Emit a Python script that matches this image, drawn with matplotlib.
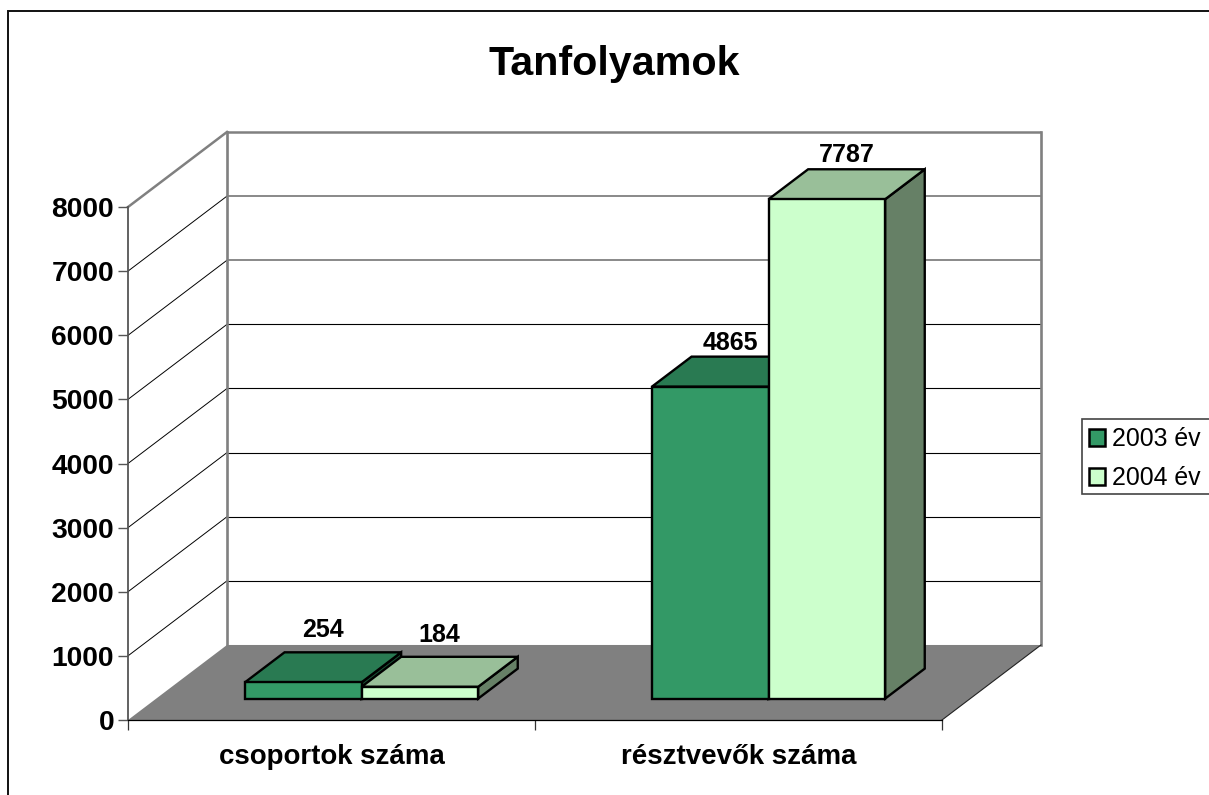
import matplotlib
matplotlib.use("Agg")
import matplotlib.pyplot as plt
from matplotlib.patches import Polygon, Patch, Rectangle

plt.rcParams['font.family'] = ['Liberation Sans', 'DejaVu Sans']

title = "Tanfolyamok"
categories = ["csoportok száma", "résztvevők száma"]
series_names = ["2003 év", "2004 év"]
values_2003 = [254, 4865]
values_2004 = [184, 7787]
y_levels = [0, 1000, 2000, 3000, 4000, 5000, 6000, 7000, 8000]

W, H = 1209, 795
fig = plt.figure(figsize=(W / 100, H / 100), dpi=100, facecolor='white')
px = 72 / 100  # points per pixel

ax = fig.add_axes([128 / W, (H - 720) / H, 814 / W, 513 / H])
ax.set_xlim(0, 2)
ax.set_ylim(0, 8000)
ax.patch.set_visible(False)

DX = 99 / 407      # depth of the chart box, category units
DY = 1170          # depth of the chart box, value units
GAP = 0.218
BAR_W = 0.2865
D0, D1 = 0.285, 0.685


def prj(x, v, d=0.0):
    return (x + d * DX, v + d * DY)


GRAY = '#808080'
line_colors = {8000: GRAY, 7000: GRAY, 6000: GRAY}

# outer chart frame
fig.add_artist(Rectangle((8 / W, -0.02), 1.1, (H - 10.5) / H + 0.02, transform=fig.transFigure,
                         fill=False, edgecolor='#111111', linewidth=1.4))

# walls
for lv in y_levels[1:]:
    top = lv == 8000
    c = line_colors.get(lv, 'black')
    ax.plot(*zip(prj(2, lv, 1), prj(0, lv, 1)), color=c, lw=1.8 if top else (1.3 if c == GRAY else 0.8),
            clip_on=False, zorder=1, solid_capstyle='butt')
    ax.plot(*zip(prj(0, lv, 0), prj(0, lv, 1)), color=GRAY if top else 'black', lw=1.8 if top else 0.7,
            clip_on=False, zorder=1)
for xs in (0, 2):
    ax.plot(*zip(prj(xs, 0, 1), prj(xs, 8000, 1)), color=GRAY, lw=1.9, clip_on=False, zorder=1.5)

# floor
ax.add_patch(Polygon([prj(0, 0, 0), prj(0, 0, 1), prj(2, 0, 1), prj(2, 0, 0)], closed=True,
                     facecolor=GRAY, edgecolor='none', clip_on=False, zorder=2))
ax.plot(*zip(prj(2, 0, 0), prj(2, 0, 1)), color='#222222', lw=0.8, clip_on=False, zorder=2.1)

# bars
palette = [('#339966', '#297A52', '#1A4D33'), ('#CCFFCC', '#99BF99', '#668066')]
label_lift = [23, 15]


def bar3d(x0, v, cols, z):
    x1 = x0 + BAR_W
    style = dict(edgecolor='black', linewidth=1.7, clip_on=False, zorder=z, joinstyle='miter')
    ax.add_patch(Polygon([prj(x1, 0, D0), prj(x1, 0, D1), prj(x1, v, D1), prj(x1, v, D0)],
                         facecolor=cols[2], **style))
    ax.add_patch(Polygon([prj(x0, v, D0), prj(x0, v, D1), prj(x1, v, D1), prj(x1, v, D0)],
                         facecolor=cols[1], **style))
    ax.add_patch(Polygon([prj(x0, 0, D0), prj(x0, v, D0), prj(x1, v, D0), prj(x1, 0, D0)],
                         facecolor=cols[0], **style))


for i in range(len(categories)):
    for s, vals in enumerate((values_2003, values_2004)):
        x0 = i + GAP + s * BAR_W
        v = vals[i]
        bar3d(x0, v, palette[s], 3 + i + s * 0.1)
        ax.annotate(str(v), prj(x0 + BAR_W / 2, v, D1 - 0.2), xytext=(0, label_lift[i] * px + 14 * px),
                    textcoords='offset points', ha='center', va='center', fontsize=18, fontweight='bold',
                    color='black', annotation_clip=False, zorder=10)

# axes, ticks, labels
for name in ('top', 'right'):
    ax.spines[name].set_visible(False)
ax.spines['left'].set_color('#555555')
ax.spines['left'].set_linewidth(1.3)
ax.spines['left'].set_zorder(2.5)
ax.spines['bottom'].set_color('black')
ax.spines['bottom'].set_linewidth(0.9)
ax.spines['bottom'].set_zorder(2.5)
ax.set_yticks(y_levels)
ax.set_yticklabels([str(v) for v in y_levels], fontsize=20.3, fontweight='bold')
ax.tick_params(axis='y', length=10 * px, width=1.0, color='#555555', pad=4 * px)
ax.set_xticks([0, 1, 2])
ax.set_xticklabels([])
ax.tick_params(axis='x', which='major', length=10 * px, width=0.9, color='#333333')
ax.set_xticks([i + 0.5 for i in range(len(categories))], minor=True)
ax.set_xticklabels(categories, minor=True, fontsize=19.9, fontweight='bold')
ax.tick_params(axis='x', which='minor', length=0, pad=24 * px)

fig.text(614 / W, 1 - 64 / H, title, ha='center', va='center', fontsize=29.7, fontweight='bold')

# legend
fig.add_artist(Rectangle((1081.5 / W, 1 - 494 / H), 0.2, 75 / H, transform=fig.transFigure,
                         facecolor='white', edgecolor='#444444', linewidth=1.2))
handles = [Patch(facecolor=palette[k][0], edgecolor='black', linewidth=1.8, label=series_names[k]) for k in range(2)]
leg = fig.legend(handles=handles, loc='upper left', bbox_to_anchor=(1088.5 / W, 1 - 427 / H),
                 bbox_transform=fig.transFigure, frameon=False, fontsize=17.9, borderpad=0, borderaxespad=0,
                 handlelength=0.66, handleheight=0.66, handletextpad=0.3, labelspacing=0.62)
leg.set_zorder(20)

fig.savefig('out.png', dpi=100, facecolor='white')
